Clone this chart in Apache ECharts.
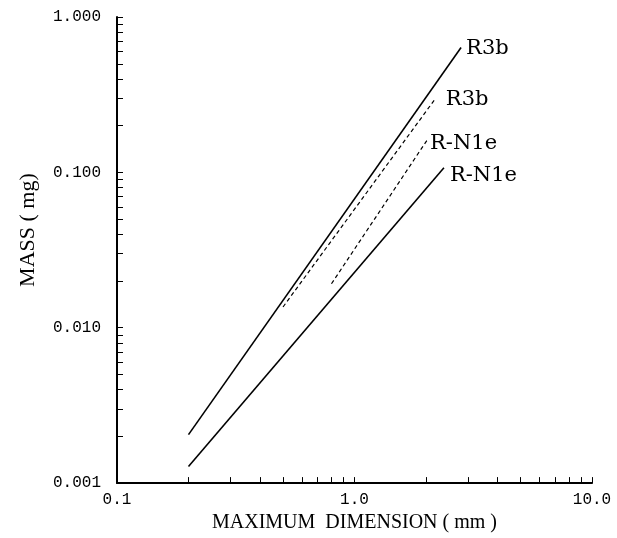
<!DOCTYPE html>
<html>
<head>
<meta charset="utf-8">
<script src="https://cdn.jsdelivr.net/npm/echarts@6/dist/echarts.min.js"></script>
<style>
html, body { margin: 0; padding: 0; background: #fff; }
#chart { width: 617px; height: 538px; }
</style>
</head>
<body>
<div id="chart"></div>
<script>
// line end points (log-log, so straight lines)
var r3bSolidX = [0.2, 2.81];
var r3bSolidY = [0.00205, 0.637];
var r3bDashX = [0.5, 2.2];
var r3bDashY = [0.0136, 0.301];
var rn1eDashX = [0.8, 2.02];
var rn1eDashY = [0.0192, 0.161];
var rn1eSolidX = [0.2, 2.38];
var rn1eSolidY = [0.00128, 0.107];

var xLabels = [0.1, 1, 10];
var yLabels = [0.001, 0.01, 0.1, 1];
var xTicks = [0.1, 0.2, 0.3, 0.4, 0.5, 0.6, 0.7, 0.8, 0.9,
              1, 2, 3, 4, 5, 6, 7, 8, 9, 10];
var yTicks = [0.001, 0.002, 0.003, 0.004, 0.005, 0.006, 0.007, 0.008, 0.009,
              0.01, 0.02, 0.03, 0.04, 0.05, 0.06, 0.07, 0.08, 0.09,
              0.1, 0.2, 0.3, 0.4, 0.5, 0.6, 0.7, 0.8, 0.9, 1];

function pairs(xs, ys) {
    var out = [];
    for (var i = 0; i < xs.length; i++) out.push([xs[i], ys[i]]);
    return out;
}

// name goes at the upper end of each line
function makeLine(name, xs, ys, dashed, dist, off) {
    return {
        name: name,
        type: 'line',
        data: pairs(xs, ys),
        symbol: 'none',
        silent: true,
        lineStyle: {
            color: '#000',
            width: dashed ? 1.2 : 1.6,
            type: dashed ? [4, 3] : 'solid'
        },
        endLabel: {
            show: true,
            formatter: name,
            color: '#000',
            fontFamily: 'DejaVu Serif',
            fontSize: 21,
            distance: dist,
            offset: off || [0, 0]
        }
    };
}

var myChart = echarts.init(document.getElementById('chart'));

var option = {
    animation: false,
    backgroundColor: '#fff',
    grid: { left: 117, right: 25, top: 17, bottom: 49 },
    xAxis: {
        type: 'log',
        logBase: 10,
        min: 0.1,
        max: 10,
        name: 'MAXIMUM  DIMENSION ( mm )',
        nameLocation: 'middle',
        nameGap: 24,
        nameTextStyle: {
            color: '#000',
            fontFamily: 'Liberation Serif',
            fontSize: 20,
            verticalAlign: 'top'
        },
        axisLine: { lineStyle: { color: '#000', width: 2 } },
        axisTick: {
            inside: true,
            length: 6,
            customValues: xTicks,
            lineStyle: { color: '#000', width: 1 }
        },
        axisLabel: {
            customValues: xLabels,
            color: '#000',
            fontFamily: 'Liberation Mono',
            fontSize: 16,
            margin: 9,
            formatter: function (v) { return v.toFixed(1); }
        },
        splitLine: { show: false }
    },
    yAxis: {
        type: 'log',
        logBase: 10,
        min: 0.001,
        max: 1,
        name: 'MASS ( mg)',
        nameLocation: 'middle',
        nameGap: 78,
        nameRotate: 90,
        nameTextStyle: {
            color: '#000',
            fontFamily: 'Liberation Serif',
            fontSize: 22,
            padding: [0, 0, 0, 40]
        },
        axisLine: { lineStyle: { color: '#000', width: 2 } },
        axisTick: {
            inside: true,
            length: 6,
            customValues: yTicks,
            lineStyle: { color: '#000', width: 1 }
        },
        axisLabel: {
            customValues: yLabels,
            color: '#000',
            fontFamily: 'Liberation Mono',
            fontSize: 16,
            margin: 16,
            formatter: function (v) { return v.toFixed(3); }
        },
        splitLine: { show: false }
    },
    series: [
        makeLine('R3b', r3bSolidX, r3bSolidY, false, 5, [0, 1]),
        makeLine('R3b', r3bDashX, r3bDashY, true, 10, [0, 2]),
        makeLine('R-N1e', rn1eDashX, rn1eDashY, true, 3, [0, 3]),
        makeLine('R-N1e', rn1eSolidX, rn1eSolidY, false, 6, [0, 8])
    ]
};

myChart.setOption(option);
</script>
</body>
</html>
